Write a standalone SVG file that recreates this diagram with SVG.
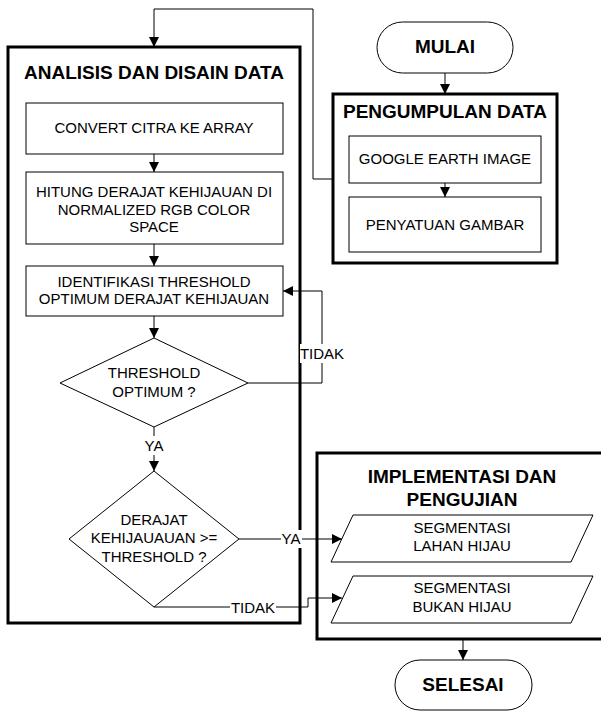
<svg xmlns="http://www.w3.org/2000/svg" width="601" height="711" viewBox="0 0 601 711">
  <defs>
    <marker id="arrow" markerUnits="userSpaceOnUse" markerWidth="11" markerHeight="11" refX="10" refY="5" orient="auto">
      <path d="M0,0 L10,5 L0,10 z" fill="#000"/>
    </marker>
    <style>
      .frame { fill: #fff; stroke: #000; stroke-width: 3; }
      .box { fill: #fff; stroke: #000; stroke-width: 1; }
      .conn { fill: none; stroke: #000; stroke-width: 1; }
      .arr { marker-end: url(#arrow); }
      .t { font-family: "Liberation Sans", Arial, sans-serif; font-size: 15px; fill: #000; text-anchor: middle; }
      .h { font-family: "Liberation Sans", Arial, sans-serif; font-size: 19px; font-weight: bold; fill: #000; text-anchor: middle; }
      .lblbg { fill: #fff; stroke: none; }
    </style>
  </defs>
  <rect width="601" height="711" fill="#fff"/>

  <!-- container frames -->
  <g id="analisis">
    <rect class="frame" x="8" y="47" width="292" height="576"/>
    <text class="h" x="154" y="79">ANALISIS DAN DISAIN DATA</text>
  </g>
  <g id="pengumpulan">
    <rect class="frame" x="333" y="94" width="224" height="169"/>
    <text class="h" x="445" y="118">PENGUMPULAN DATA</text>
  </g>
  <g id="implementasi">
    <rect class="frame" x="317" y="453" width="300" height="186"/>
    <text class="h" x="462" y="483">IMPLEMENTASI DAN</text>
    <text class="h" x="462" y="506">PENGUJIAN</text>
  </g>

  <!-- connectors -->
  <g id="connectors">
    <path class="conn arr" d="M445,73 V94"/>
    <path class="conn arr" d="M445,183 V197"/>
    <path class="conn arr" d="M333,179 H313 V9 H154 V47"/>
    <path class="conn arr" d="M154,154 V172"/>
    <path class="conn arr" d="M154,244 V266"/>
    <path class="conn arr" d="M154,316 V338"/>
    <path class="conn arr" d="M248,383 H322 V291 H283"/>
    <path class="conn arr" d="M154,427 V471"/>
    <path class="conn arr" d="M239,539 H342"/>
    <path class="conn arr" d="M154,607 H308 V598 H342"/>
    <path class="conn arr" d="M463,639 V660"/>
    <!-- branch labels -->
    <rect class="lblbg" x="300" y="344" width="44" height="19"/>
    <text class="t" x="322" y="359">TIDAK</text>
    <rect class="lblbg" x="143" y="436" width="22" height="19"/>
    <text class="t" x="154" y="451">YA</text>
    <rect class="lblbg" x="281" y="530" width="21" height="18"/>
    <text class="t" x="291" y="544">YA</text>
    <rect class="lblbg" x="230" y="599" width="46" height="18"/>
    <text class="t" x="253" y="613">TIDAK</text>
  </g>

  <!-- nodes -->
  <g id="mulai">
    <rect class="box" x="377" y="22" width="136" height="51" rx="25.5" ry="25.5"/>
    <text class="h" x="445" y="53">MULAI</text>
  </g>
  <g id="google-earth">
    <rect class="box" x="349" y="136" width="192" height="47"/>
    <text class="t" x="445" y="164">GOOGLE EARTH IMAGE</text>
  </g>
  <g id="penyatuan">
    <rect class="box" x="349" y="197" width="192" height="55"/>
    <text class="t" x="445" y="230">PENYATUAN GAMBAR</text>
  </g>
  <g id="convert">
    <rect class="box" x="26" y="103" width="257" height="51"/>
    <text class="t" x="154" y="133">CONVERT CITRA KE ARRAY</text>
  </g>
  <g id="hitung">
    <rect class="box" x="26" y="172" width="257" height="72"/>
    <text class="t" x="154" y="197">HITUNG DERAJAT KEHIJAUAN DI</text>
    <text class="t" x="154" y="215">NORMALIZED RGB COLOR</text>
    <text class="t" x="154" y="232">SPACE</text>
  </g>
  <g id="identifikasi">
    <rect class="box" x="26" y="266" width="257" height="50"/>
    <text class="t" x="154" y="287">IDENTIFIKASI THRESHOLD</text>
    <text class="t" x="154" y="304">OPTIMUM DERAJAT KEHIJAUAN</text>
  </g>
  <g id="cek-threshold">
    <polygon class="box" points="154,338 248,383 154,427 60,383"/>
    <text class="t" x="154" y="378">THRESHOLD</text>
    <text class="t" x="154" y="397">OPTIMUM ?</text>
  </g>
  <g id="cek-derajat">
    <polygon class="box" points="154,471 239,539 154,607 69,539"/>
    <text class="t" x="154" y="525">DERAJAT</text>
    <text class="t" x="154" y="543">KEHIJAUAUAN &gt;=</text>
    <text class="t" x="154" y="562">THRESHOLD ?</text>
  </g>
  <g id="lahan-hijau">
    <polygon class="box" points="353,515 593,515 571,562 331,562"/>
    <text class="t" x="462" y="533">SEGMENTASI</text>
    <text class="t" x="462" y="551">LAHAN HIJAU</text>
  </g>
  <g id="bukan-hijau">
    <polygon class="box" points="353,576 593,576 571,623 331,623"/>
    <text class="t" x="462" y="593">SEGMENTASI</text>
    <text class="t" x="462" y="612">BUKAN HIJAU</text>
  </g>
  <g id="selesai">
    <rect class="box" x="395" y="660" width="137" height="50" rx="25" ry="25"/>
    <text class="h" x="463" y="691">SELESAI</text>
  </g>
</svg>
